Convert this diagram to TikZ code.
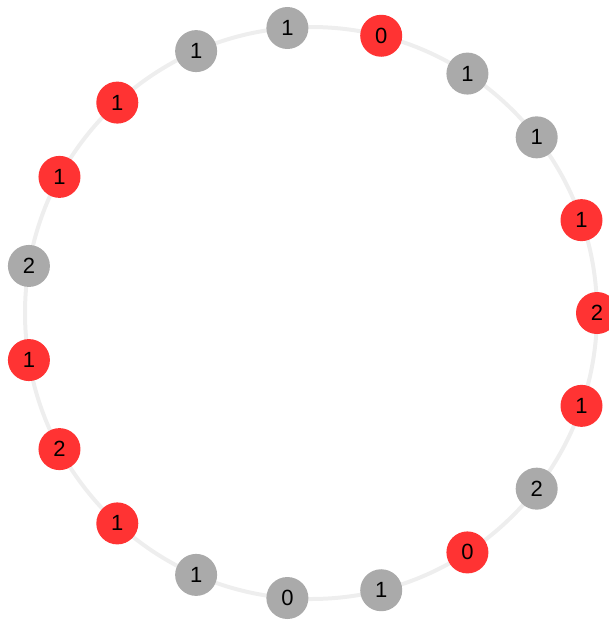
\documentclass[tikz,border=0pt]{standalone}
\usepackage{fontspec}
\setmainfont{Liberation Sans}
\usetikzlibrary{calc}
\definecolor{nred}{HTML}{FF3333}
\definecolor{ngray}{HTML}{AAAAAA}
\definecolor{ringc}{HTML}{EEEEEE}
\begin{document}
\begin{tikzpicture}[x=1pt,y=-1pt,
  dot/.style={circle,inner sep=0pt,minimum size=42pt,text=black,font=\fontsize{22}{25}\selectfont}]
\useasboundingbox (0,0) rectangle (609,622);
\clip (0,0) rectangle (609,622);
\coordinate (c) at (311,313);
\draw[ringc,line width=4pt] (c) circle[radius=286];
\foreach \k/\col/\t in {0/ngray/1,1/nred/0,2/ngray/1,3/ngray/1,4/nred/1,5/nred/2,6/nred/1,7/ngray/2,8/nred/0,9/ngray/1,10/ngray/0,11/ngray/1,12/nred/1,13/nred/2,14/nred/1,15/ngray/2,16/nred/1,17/nred/1,18/ngray/1}{
  \pgfmathsetmacro{\a}{(5-\k)*360/19}
  \node[dot,fill=\col] (n\k) at ($(c)+({286*cos(\a)},{-286*sin(\a)})$) {\t};
}
\end{tikzpicture}
\end{document}
